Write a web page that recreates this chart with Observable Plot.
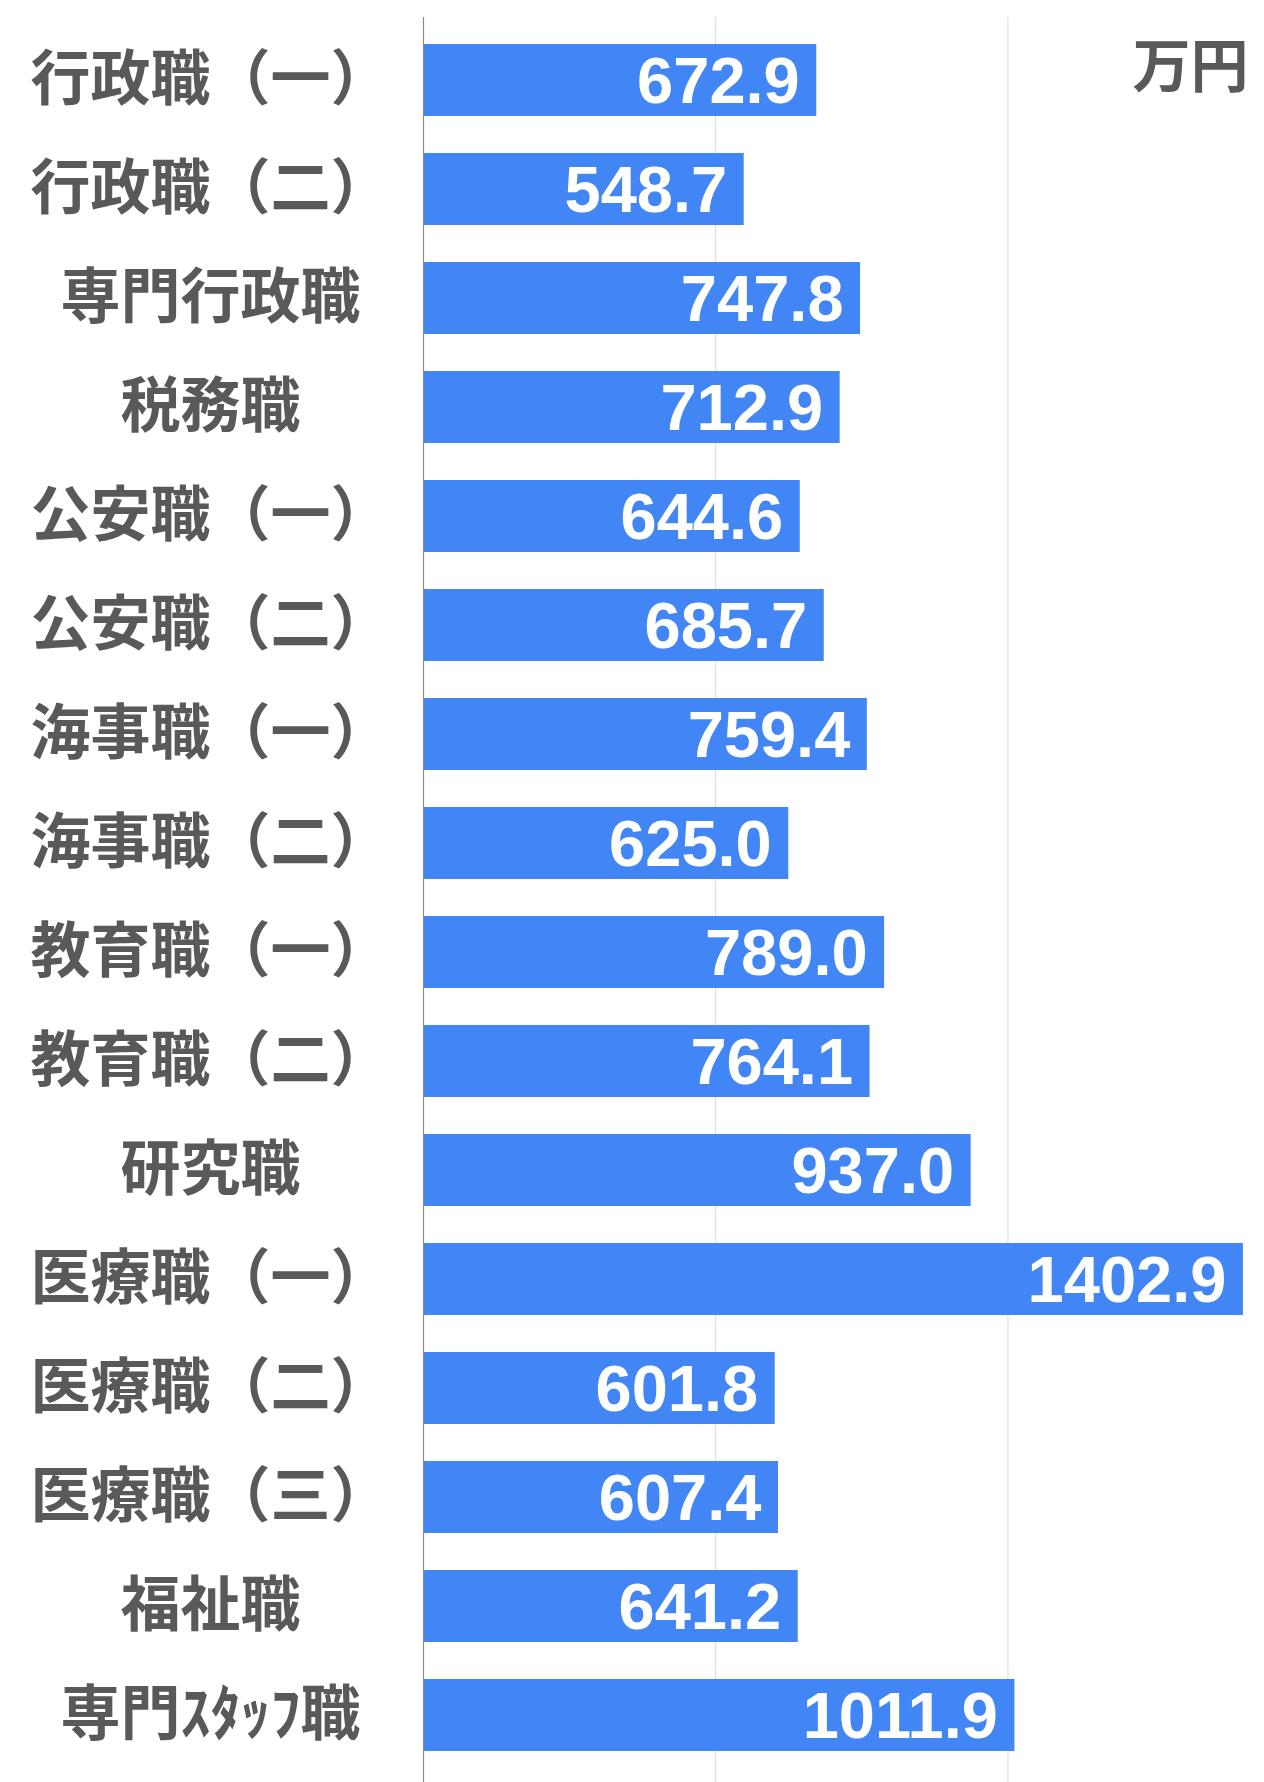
<!DOCTYPE html>
<html>
<head>
<meta charset="utf-8">
<script src="https://cdn.jsdelivr.net/npm/d3@7"></script>
<script src="https://cdn.jsdelivr.net/npm/@observablehq/plot@0.6"></script>
<style>
  html, body { margin: 0; padding: 0; background: #ffffff; }
  #chart svg { display: block; }
</style>
</head>
<body>
<div id="chart"></div>
<script>
const categories = [
  "行政職（一）", "行政職（二）", "専門行政職", "税務職",
  "公安職（一）", "公安職（二）", "海事職（一）", "海事職（二）",
  "教育職（一）", "教育職（二）", "研究職", "医療職（一）",
  "医療職（二）", "医療職（三）", "福祉職", "専門ｽﾀｯﾌ職"
];
const values = [
  672.9, 548.7, 747.8, 712.9,
  644.6, 685.7, 759.4, 625.0,
  789.0, 764.1, 937.0, 1402.9,
  601.8, 607.4, 641.2, 1011.9
];
const gridTicks = [500, 1000];
const unitLabel = ["万円"];

const data = categories.map((c, i) => ({cat: c, value: values[i]}));

const chart = Plot.plot({
  width: 1264,
  height: 1782,
  marginLeft: 423,
  marginRight: 0,
  marginTop: 17,
  marginBottom: 0,
  style: {background: "#ffffff"},
  x: {domain: [0, 1439], axis: null},
  y: {
    domain: categories,
    axis: null,
    paddingInner: 0.344,
    paddingOuter: 0.172,
    insetTop: 7,
    insetBottom: 11
  },
  marks: [
    Plot.ruleX(gridTicks, {stroke: "#d9d9d9", strokeWidth: 1}),
    Plot.barX(data, {x: "value", y: "cat", fill: "#4285F4"}),
    Plot.ruleX([0], {stroke: "#8a8a8a", strokeWidth: 1.2}),
    Plot.text(data, {
      x: "value", y: "cat",
      text: d => d.value.toFixed(1),
      textAnchor: "end", dx: -17, dy: 2,
      fill: "#ffffff",
      fontSize: 65, fontWeight: "bold",
      fontFamily: "Liberation Sans, Arial, sans-serif"
    }),
    Plot.text(categories, {
      y: d => d, text: d => d,
      frameAnchor: "left", dx: -213,
      textAnchor: "middle",
      fill: "#595959",
      fontSize: 60, fontWeight: "bold",
      fontFamily: "Noto Sans CJK JP, sans-serif"
    }),
    Plot.text(unitLabel, {
      text: d => d,
      frameAnchor: "top-right", dx: -16, dy: 51,
      lineAnchor: "middle",
      textAnchor: "end",
      fill: "#595959",
      fontSize: 58, fontWeight: "bold",
      fontFamily: "Noto Sans CJK JP, sans-serif"
    })
  ]
});
document.getElementById("chart").appendChild(chart);
</script>
</body>
</html>
